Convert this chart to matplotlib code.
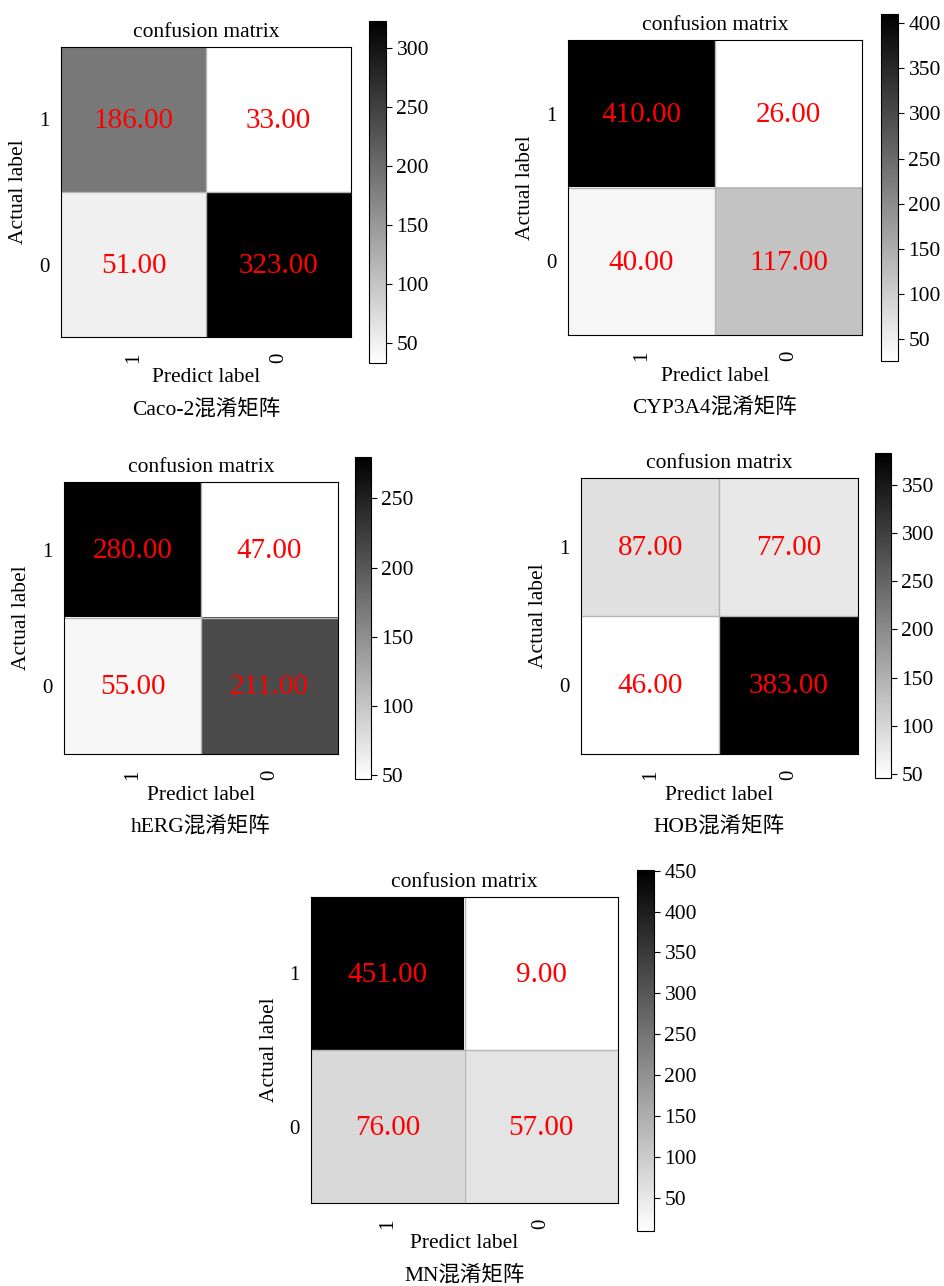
import numpy as np
import matplotlib
matplotlib.use("Agg")
import matplotlib.pyplot as plt
from matplotlib.ticker import MultipleLocator

plt.rcParams['font.family'] = ['Liberation Serif', 'Noto Sans CJK SC']

# confusion matrices: rows = actual (1, 0), cols = predicted (1, 0)
names = ['Caco-2', 'CYP3A4', 'hERG', 'HOB', 'MN']
caco2 = [[186, 33], [51, 323]]
cyp3a4 = [[410, 26], [40, 117]]
herg = [[280, 47], [55, 211]]
hob = [[87, 77], [46, 383]]
mn = [[451, 9], [76, 57]]
matrices = [caco2, cyp3a4, herg, hob, mn]
class_labels = ['1', '0']

W, H = 945, 1286
# pixel boxes: axes (left, top, right, bottom), colorbar (left, top, right, bottom)
ax_boxes = [(61, 47, 351, 337), (568, 40, 862, 335), (64, 482, 338, 754),
            (581, 478, 858, 754), (311, 897, 618, 1203)]
cb_boxes = [(369, 21, 386, 363), (881, 14, 898, 361), (355, 457, 371, 779),
            (875, 453, 891, 778), (637, 870, 654, 1231)]


def rect(box):
    l, t, r, b = box
    return [l / W, 1 - b / H, (r - l) / W, (b - t) / H]


fig = plt.figure(figsize=(9.45, 12.86), dpi=100)

for name, cm, abox, cbox in zip(names, matrices, ax_boxes, cb_boxes):
    cm = np.array(cm)
    ax = fig.add_axes(rect(abox))
    im = ax.imshow(cm, cmap='gray_r', interpolation='nearest', aspect='auto')
    ax.axhline(0.5, color='#b5b5b5', lw=1)
    ax.axvline(0.5, color='#b5b5b5', lw=1)
    for i in range(2):
        for j in range(2):
            ax.text(j, i + 0.01, '%.2f' % cm[i, j], ha='center', va='center',
                    color='red', fontsize=21)
    ax.set_xticks(range(2))
    ax.set_xticklabels(class_labels, rotation=90, fontsize=15)
    ax.set_yticks(range(2))
    ax.set_yticklabels(class_labels, fontsize=15)
    ax.tick_params(length=0)
    ax.tick_params(axis='x', pad=11)
    ax.tick_params(axis='y', pad=8)
    ax.set_title('confusion matrix', fontsize=15.5, pad=7)
    ax.annotate('Predict label', xy=(0.5, 0), xycoords='axes fraction',
                xytext=(0, -41), textcoords='offset pixels',
                ha='center', va='center', fontsize=15.5)
    ax.annotate('Actual label', xy=(0, 0.5), xycoords='axes fraction',
                xytext=(-42, 0), textcoords='offset pixels', rotation=90,
                ha='center', va='center', fontsize=15.5)
    ax.annotate(name + '混淆矩阵', xy=(0.5, 0), xycoords='axes fraction',
                xytext=(0, -72), textcoords='offset pixels',
                ha='center', va='center', fontsize=15.5)

    cax = fig.add_axes(rect(cbox))
    cb = fig.colorbar(im, cax=cax)
    cb.ax.yaxis.set_major_locator(MultipleLocator(50))
    cb.ax.tick_params(labelsize=15.5, length=4)

plt.savefig('out.png', dpi=100)
